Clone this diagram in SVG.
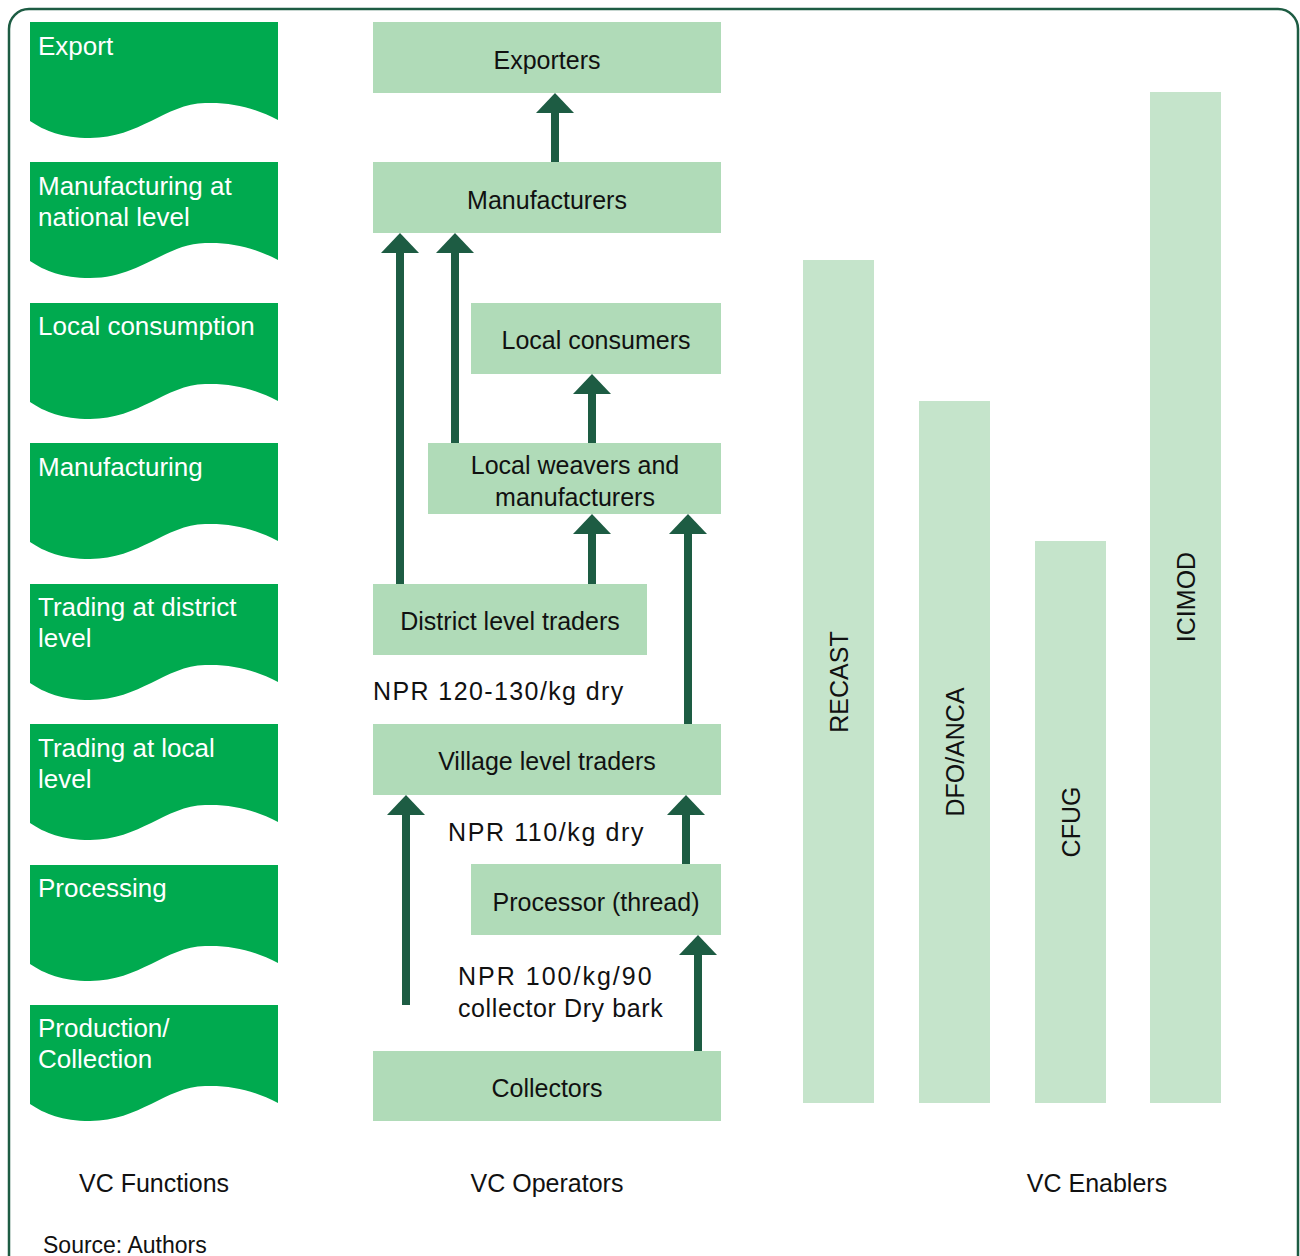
<svg xmlns="http://www.w3.org/2000/svg" width="1300" height="1256" viewBox="0 0 1300 1256">
<style>
.fn{fill:#00aa4f}
.fnt{fill:#fff;font-family:"Liberation Sans",Arial,sans-serif;font-size:26px}
.op{fill:#b0dbb8}
.en{fill:#c5e4cb}
.t{fill:#111;font-family:"Liberation Sans",Arial,sans-serif;font-size:25px}
.c{text-anchor:middle}
.sh{stroke:#1d5c43;stroke-width:8;fill:none}
.hd{fill:#1d5c43}
</style>
<defs>
<path id="wave" d="M30,22 H278 V120 C255,108 232,102 205,103 C165,104 140,138 90,138 C62,138 45,131 30,121 Z"/>
</defs>
<rect x="9" y="9" width="1289" height="1270" rx="20" ry="20" fill="none" stroke="#1d5c43" stroke-width="2.5"/>

<g id="functions">
<g id="f-export"><use href="#wave" class="fn"/><text class="fnt" x="38" y="55">Export</text></g>
<g id="f-mfg-national"><use href="#wave" class="fn" y="140"/><text class="fnt" x="38" y="195">Manufacturing at</text><text class="fnt" x="38" y="226">national level</text></g>
<g id="f-local-consumption"><use href="#wave" class="fn" y="281"/><text class="fnt" x="38" y="335">Local consumption</text></g>
<g id="f-mfg"><use href="#wave" class="fn" y="421"/><text class="fnt" x="38" y="476">Manufacturing</text></g>
<g id="f-trading-district"><use href="#wave" class="fn" y="562"/><text class="fnt" x="38" y="616">Trading at district</text><text class="fnt" x="38" y="647">level</text></g>
<g id="f-trading-local"><use href="#wave" class="fn" y="702"/><text class="fnt" x="38" y="757">Trading at local</text><text class="fnt" x="38" y="788">level</text></g>
<g id="f-processing"><use href="#wave" class="fn" y="843"/><text class="fnt" x="38" y="897">Processing</text></g>
<g id="f-production"><use href="#wave" class="fn" y="983"/><text class="fnt" x="38" y="1037">Production/</text><text class="fnt" x="38" y="1068">Collection</text></g>
</g>

<g id="exporters"><rect class="op" x="373" y="22" width="348" height="71"/><text class="t c" x="547" y="69">Exporters</text></g>
<g id="manufacturers"><rect class="op" x="373" y="162" width="348" height="71"/><text class="t c" x="547" y="209">Manufacturers</text></g>
<g id="local-consumers"><rect class="op" x="471" y="303" width="250" height="71"/><text class="t c" x="596" y="349">Local consumers</text></g>
<g id="local-weavers"><rect class="op" x="428" y="443" width="293" height="71"/><text class="t c" x="575" y="474">Local weavers and</text><text class="t c" x="575" y="506">manufacturers</text></g>
<g id="district-traders"><rect class="op" x="373" y="584" width="274" height="71"/><text class="t c" x="510" y="630">District level traders</text></g>
<g id="village-traders"><rect class="op" x="373" y="724" width="348" height="71"/><text class="t c" x="547" y="770">Village level traders</text></g>
<g id="processor"><rect class="op" x="471" y="864" width="250" height="71"/><text class="t c" x="596" y="911">Processor (thread)</text></g>
<g id="collectors"><rect class="op" x="373" y="1051" width="348" height="70"/><text class="t c" x="547" y="1097">Collectors</text></g>

<g id="connectors">
<path class="sh" d="M555,162 V110"/><path class="hd" d="M555,93 L574,113 L536,113 Z"/>
<path class="sh" d="M400,584 V250"/><path class="hd" d="M400,233 L419,253 L381,253 Z"/>
<path class="sh" d="M455,443 V250"/><path class="hd" d="M455,233 L474,253 L436,253 Z"/>
<path class="sh" d="M592,443 V391"/><path class="hd" d="M592,374 L611,394 L573,394 Z"/>
<path class="sh" d="M592,584 V531"/><path class="hd" d="M592,514 L611,534 L573,534 Z"/>
<path class="sh" d="M688,724 V531"/><path class="hd" d="M688,514 L707,534 L669,534 Z"/>
<path class="sh" d="M406,1005 V812"/><path class="hd" d="M406,795 L425,815 L387,815 Z"/>
<path class="sh" d="M686,864 V812"/><path class="hd" d="M686,795 L705,815 L667,815 Z"/>
<path class="sh" d="M698,1051 V952"/><path class="hd" d="M698,935 L717,955 L679,955 Z"/>
</g>

<g id="price-labels">
<text class="t" x="373" y="700" style="letter-spacing:1.4px">NPR 120-130/kg dry</text>
<text class="t" x="448" y="841" style="letter-spacing:1.6px">NPR 110/kg dry</text>
<text class="t" x="458" y="985" style="letter-spacing:2px">NPR 100/kg/90</text>
<text class="t" x="458" y="1017" style="letter-spacing:0.6px">collector Dry bark</text>
</g>

<g id="recast"><rect class="en" x="803" y="260" width="71" height="843"/><text class="t c" transform="translate(848,682) rotate(-90)">RECAST</text></g>
<g id="dfo-anca"><rect class="en" x="919" y="401" width="71" height="702"/><text class="t c" transform="translate(964,752) rotate(-90)">DFO/ANCA</text></g>
<g id="cfug"><rect class="en" x="1035" y="541" width="71" height="562"/><text class="t c" transform="translate(1080,822) rotate(-90)">CFUG</text></g>
<g id="icimod"><rect class="en" x="1150" y="92" width="71" height="1011"/><text class="t c" transform="translate(1195,597) rotate(-90)">ICIMOD</text></g>

<g id="footer">
<text class="t c" x="154" y="1192">VC Functions</text>
<text class="t c" x="547" y="1192">VC Operators</text>
<text class="t c" x="1097" y="1192">VC Enablers</text>
<text class="t" x="43" y="1253" style="font-size:23px">Source: Authors</text>
</g>
</svg>
